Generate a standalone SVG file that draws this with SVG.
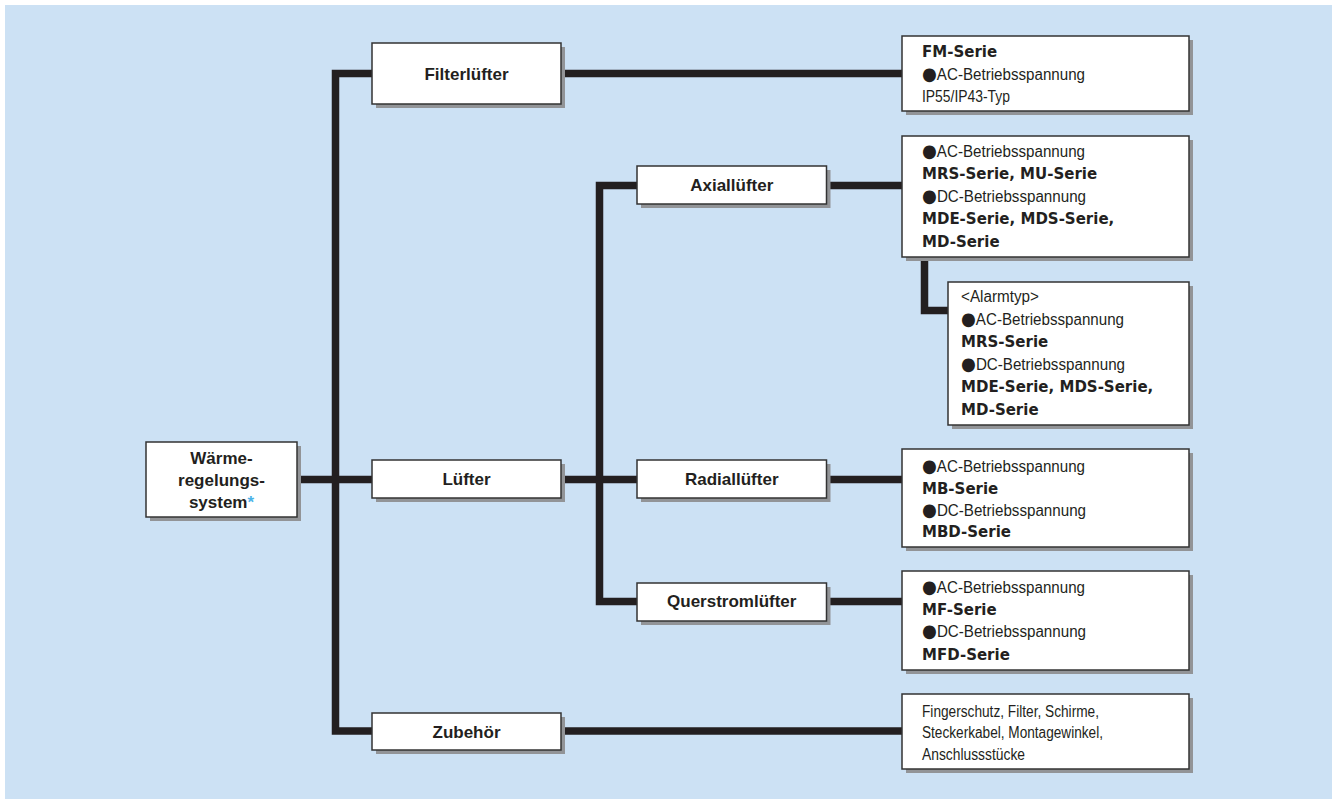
<svg xmlns="http://www.w3.org/2000/svg" width="1332" height="799" viewBox="0 0 1332 799">
<style>
.bg{fill:#cce1f4}
.sh{fill:#929497}
.bx{fill:#ffffff;stroke:#333333;stroke-width:1.5}
.ln{fill:none;stroke:#231f20;stroke-width:7.5;stroke-linejoin:miter;stroke-linecap:butt}
.lb{font-family:"Liberation Sans",Arial,sans-serif;font-weight:bold;font-size:17px;fill:#231f20;text-anchor:middle}
.tx{font-family:"Liberation Sans",Arial,sans-serif;font-size:16px;fill:#231f20}
.bt{font-family:"DejaVu Sans",sans-serif;font-weight:bold;font-size:15px;fill:#231f20}
.dot{font-family:"DejaVu Sans",sans-serif;font-size:18px}
.ast{fill:#4db3e8}
</style>
<rect class="bg" x="5" y="5" width="1327" height="794"/>
<g id="connectors">
<path class="ln" d="M372,73.5 H335.5 V731 H372"/>
<path class="ln" d="M297,479.5 H372"/>
<path class="ln" d="M561,73.5 H902"/>
<path class="ln" d="M561,731 H902"/>
<path class="ln" d="M561,479.5 H637"/>
<path class="ln" d="M637,185.5 H599.5 V601.5 H637"/>
<path class="ln" d="M826,185.5 H902"/>
<path class="ln" d="M826,479.5 H902"/>
<path class="ln" d="M826,601.5 H902"/>
<path class="ln" d="M924.5,257 V310.5 H948"/>
</g>
<g id="waerme">
<rect class="sh" x="150" y="446" width="151" height="75"/>
<rect class="bx" x="146" y="442" width="151" height="75"/>
<text class="lb" x="221.5" y="463.5">Wärme-</text>
<text class="lb" x="221.5" y="485.5">regelungs-</text>
<text class="lb" x="221.5" y="507.5">system<tspan class="ast">*</tspan></text>
</g>
<g id="filterluefter">
<rect class="sh" x="376" y="47" width="189" height="61"/>
<rect class="bx" x="372" y="43" width="189" height="61"/>
<text class="lb" x="466.5" y="79.5">Filterlüfter</text>
</g>
<g id="luefter">
<rect class="sh" x="376" y="464" width="189" height="38"/>
<rect class="bx" x="372" y="460" width="189" height="38"/>
<text class="lb" x="466.5" y="485">Lüfter</text>
</g>
<g id="zubehoer">
<rect class="sh" x="376" y="717" width="189" height="37"/>
<rect class="bx" x="372" y="713" width="189" height="37"/>
<text class="lb" x="466.5" y="737.5">Zubehör</text>
</g>
<g id="axialluefter">
<rect class="sh" x="641" y="170" width="189.5" height="38"/>
<rect class="bx" x="637" y="166" width="189.5" height="38"/>
<text class="lb" x="731.75" y="190.5">Axiallüfter</text>
</g>
<g id="radialluefter">
<rect class="sh" x="641" y="464" width="189.5" height="38"/>
<rect class="bx" x="637" y="460" width="189.5" height="38"/>
<text class="lb" x="731.75" y="485">Radiallüfter</text>
</g>
<g id="querstromluefter">
<rect class="sh" x="641" y="587" width="189.5" height="38"/>
<rect class="bx" x="637" y="583" width="189.5" height="38"/>
<text class="lb" x="731.75" y="607">Querstromlüfter</text>
</g>
<g id="fm">
<rect class="sh" x="906" y="40" width="287" height="75"/>
<rect class="bx" x="902" y="36" width="287" height="75"/>
<text class="bt" x="922" y="57">FM-Serie</text>
<text class="tx" x="922" y="79.5" textLength="163" lengthAdjust="spacingAndGlyphs"><tspan class="dot">●</tspan>AC-Betriebsspannung</text>
<text class="tx" x="922" y="102" textLength="88" lengthAdjust="spacingAndGlyphs">IP55/IP43-Typ</text>
</g>
<g id="axial-serien">
<rect class="sh" x="906" y="140" width="287" height="121"/>
<rect class="bx" x="902" y="136" width="287" height="121"/>
<text class="tx" x="922" y="157" textLength="163" lengthAdjust="spacingAndGlyphs"><tspan class="dot">●</tspan>AC-Betriebsspannung</text>
<text class="bt" x="922" y="179.4">MRS-Serie, MU-Serie</text>
<text class="tx" x="922" y="201.8" textLength="164" lengthAdjust="spacingAndGlyphs"><tspan class="dot">●</tspan>DC-Betriebsspannung</text>
<text class="bt" x="922" y="224.2">MDE-Serie, MDS-Serie,</text>
<text class="bt" x="922" y="246.6">MD-Serie</text>
</g>
<g id="alarmtyp">
<rect class="sh" x="952" y="286" width="241" height="143"/>
<rect class="bx" x="948" y="282" width="241" height="143"/>
<text class="tx" x="961" y="302" textLength="78" lengthAdjust="spacingAndGlyphs">&lt;Alarmtyp&gt;</text>
<text class="tx" x="961" y="324.6" textLength="163" lengthAdjust="spacingAndGlyphs"><tspan class="dot">●</tspan>AC-Betriebsspannung</text>
<text class="bt" x="961" y="347.2">MRS-Serie</text>
<text class="tx" x="961" y="369.8" textLength="164" lengthAdjust="spacingAndGlyphs"><tspan class="dot">●</tspan>DC-Betriebsspannung</text>
<text class="bt" x="961" y="392.4">MDE-Serie, MDS-Serie,</text>
<text class="bt" x="961" y="415">MD-Serie</text>
</g>
<g id="radial-serien">
<rect class="sh" x="906" y="453" width="287" height="98"/>
<rect class="bx" x="902" y="449" width="287" height="98"/>
<text class="tx" x="922" y="471.7" textLength="163" lengthAdjust="spacingAndGlyphs"><tspan class="dot">●</tspan>AC-Betriebsspannung</text>
<text class="bt" x="922" y="493.6">MB-Serie</text>
<text class="tx" x="922" y="515.5" textLength="164" lengthAdjust="spacingAndGlyphs"><tspan class="dot">●</tspan>DC-Betriebsspannung</text>
<text class="bt" x="922" y="537.4">MBD-Serie</text>
</g>
<g id="querstrom-serien">
<rect class="sh" x="906" y="575" width="287" height="99"/>
<rect class="bx" x="902" y="571" width="287" height="99"/>
<text class="tx" x="922" y="593.3" textLength="163" lengthAdjust="spacingAndGlyphs"><tspan class="dot">●</tspan>AC-Betriebsspannung</text>
<text class="bt" x="922" y="615.3">MF-Serie</text>
<text class="tx" x="922" y="637.3" textLength="164" lengthAdjust="spacingAndGlyphs"><tspan class="dot">●</tspan>DC-Betriebsspannung</text>
<text class="bt" x="922" y="659.8">MFD-Serie</text>
</g>
<g id="zubehoer-liste">
<rect class="sh" x="906" y="698" width="287" height="75"/>
<rect class="bx" x="902" y="694" width="287" height="75"/>
<text class="tx" x="922" y="716.5" textLength="177" lengthAdjust="spacingAndGlyphs">Fingerschutz, Filter, Schirme,</text>
<text class="tx" x="922" y="738" textLength="181" lengthAdjust="spacingAndGlyphs">Steckerkabel, Montagewinkel,</text>
<text class="tx" x="922" y="759.5" textLength="103" lengthAdjust="spacingAndGlyphs">Anschlussstücke</text>
</g>
</svg>
